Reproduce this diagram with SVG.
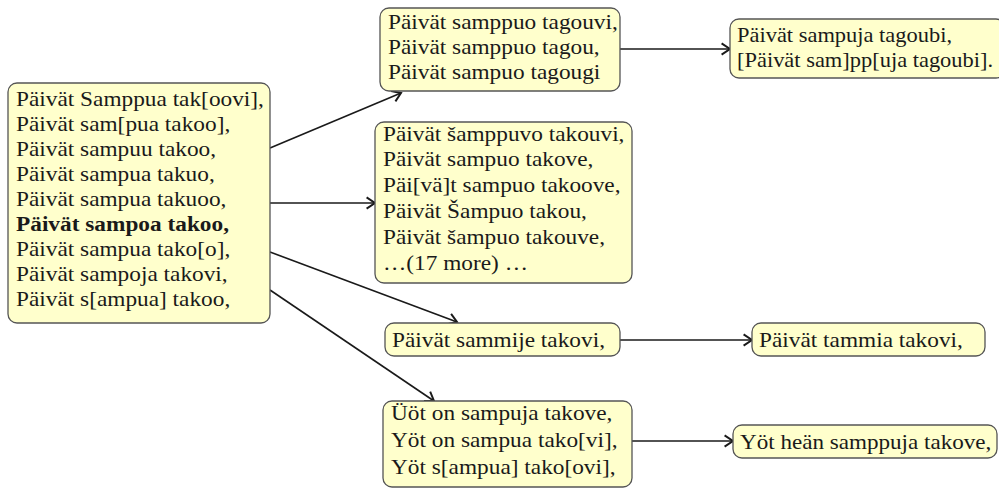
<svg xmlns="http://www.w3.org/2000/svg" width="999" height="488" viewBox="0 0 999 488">
<style>
.box{fill:#ffffcc;stroke:#555;stroke-width:1.3}
.t{font-family:"Liberation Serif","Times New Roman",serif;font-size:22px;fill:#1a1a1a}
.b{font-weight:bold}
.e{fill:none;stroke:#1a1a1a;stroke-width:1.6}
</style>
<defs>
<marker id="ah" markerUnits="userSpaceOnUse" markerWidth="14" markerHeight="14" viewBox="-8 -5 10 10" refX="0" refY="0" orient="auto">
<path d="M-6,-4 Q-1.5,-1 0,0 Q-1.5,1 -6,4" fill="none" stroke="#1a1a1a" stroke-width="1.4"/>
</marker>
</defs>
<rect width="999" height="488" fill="#fff"/>
<g id="connectors">
<path class="e" d="M270,148 L401,93" marker-end="url(#ah)"/>
<path class="e" d="M270,203 L375,203" marker-end="url(#ah)"/>
<path class="e" d="M270,252 L457,322" marker-end="url(#ah)"/>
<path class="e" d="M270,290 L434,401" marker-end="url(#ah)"/>
<path class="e" d="M620,49 L730,49" marker-end="url(#ah)"/>
<path class="e" d="M620,340 L752,340" marker-end="url(#ah)"/>
<path class="e" d="M632,441 L733,441" marker-end="url(#ah)"/>
</g>
<g id="n1">
<rect class="box" x="8" y="83" width="262" height="240" rx="9"/>
<g transform="translate(16,0) scale(1.06,1)">
<text class="t" x="0" y="106">Päivät Samppua tak[oovi],</text>
<text class="t" x="0" y="131">Päivät sam[pua takoo],</text>
<text class="t" x="0" y="156">Päivät sampuu takoo,</text>
<text class="t" x="0" y="181">Päivät sampua takuo,</text>
<text class="t" x="0" y="206">Päivät sampua takuoo,</text>
<text class="t b" x="0" y="231">Päivät sampoa takoo,</text>
<text class="t" x="0" y="256">Päivät sampua tako[o],</text>
<text class="t" x="0" y="281">Päivät sampoja takovi,</text>
<text class="t" x="0" y="306">Päivät s[ampua] takoo,</text>
</g>
</g>
<g id="n2">
<rect class="box" x="380" y="8" width="240" height="83" rx="9"/>
<g transform="translate(388,0) scale(1.06,1)">
<text class="t" x="0" y="29">Päivät samppuo tagouvi,</text>
<text class="t" x="0" y="54">Päivät samppuo tagou,</text>
<text class="t" x="0" y="79">Päivät sampuo tagougi</text>
</g>
</g>
<g id="n3">
<rect class="box" x="730" y="19" width="275" height="59" rx="9"/>
<g transform="translate(737,0) scale(1.02,1)">
<text class="t" x="0" y="42">Päivät sampuja tagoubi,</text>
<text class="t" x="0" y="67">[Päivät sam]pp[uja tagoubi].</text>
</g>
</g>
<g id="n4">
<rect class="box" x="375" y="122" width="257" height="161" rx="9"/>
<g transform="translate(383,0) scale(1.06,1)">
<text class="t" x="0" y="141">Päivät šamppuvo takouvi,</text>
<text class="t" x="0" y="166">Päivät sampuo takove,</text>
<text class="t" x="0" y="192">Päi[vä]t sampuo takoove,</text>
<text class="t" x="0" y="218">Päivät Šampuo takou,</text>
<text class="t" x="0" y="244">Päivät šampuo takouve,</text>
<text class="t" x="0" y="270">…(17 more) …</text>
</g>
</g>
<g id="n5">
<rect class="box" x="385" y="323" width="235" height="33" rx="9"/>
<g transform="translate(392,0) scale(1.06,1)">
<text class="t" x="0" y="347">Päivät sammije takovi,</text>
</g>
</g>
<g id="n6">
<rect class="box" x="752" y="323" width="233" height="33" rx="9"/>
<g transform="translate(759,0) scale(1.06,1)">
<text class="t" x="0" y="347">Päivät tammia takovi,</text>
</g>
</g>
<g id="n7">
<rect class="box" x="383" y="401" width="249" height="86" rx="9"/>
<g transform="translate(391,0) scale(1.06,1)">
<text class="t" x="0" y="420">Üöt on sampuja takove,</text>
<text class="t" x="0" y="447">Yöt on sampua tako[vi],</text>
<text class="t" x="0" y="474">Yöt s[ampua] tako[ovi],</text>
</g>
</g>
<g id="n8">
<rect class="box" x="733" y="425" width="264" height="33" rx="9"/>
<g transform="translate(740,0) scale(1.05,1)">
<text class="t" x="0" y="449">Yöt heän samppuja takove,</text>
</g>
</g>
</svg>
